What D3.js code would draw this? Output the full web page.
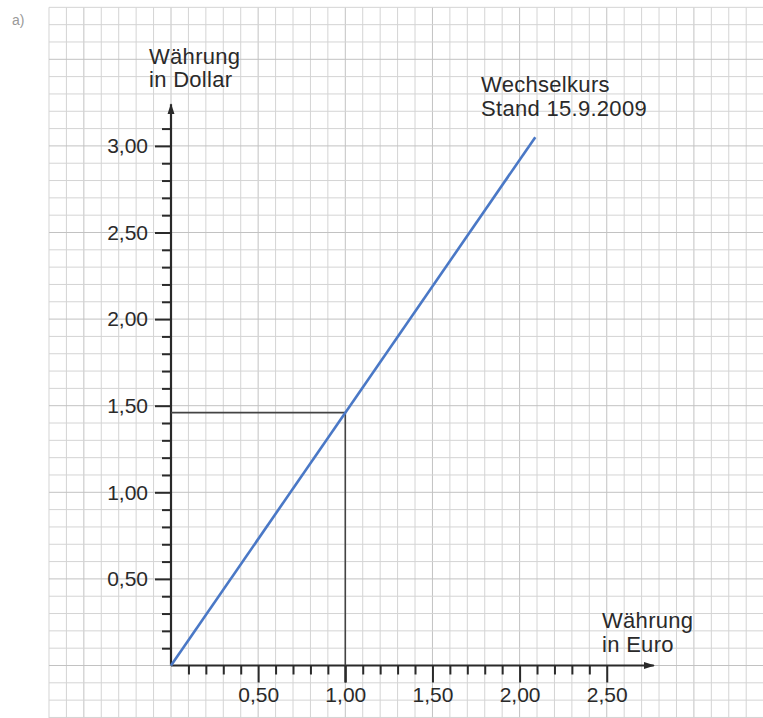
<!DOCTYPE html>
<html>
<head>
<meta charset="utf-8">
<script src="https://cdn.jsdelivr.net/npm/d3@7"></script>
<style>
  html, body { margin: 0; padding: 0; background: #fff; }
  svg { display: block; }
  text { font-family: "Liberation Sans", Arial, sans-serif; fill: #2a2a2a; }
</style>
</head>
<body>
<svg id="chart" width="763" height="718"></svg>
<script>
// ---- data ----
const rateLine = [[0, 0], [2.09, 3.05]];          // Euro -> Dollar, Stand 15.9.2009
const readOff = { euro: 1.00, dollar: 1.46 };      // reading at 1 Euro
const xTickLabels = ["0,50", "1,00", "1,50", "2,00", "2,50"];
const xTickValues = [0.5, 1.0, 1.5, 2.0, 2.5];
const yTickLabels = ["0,50", "1,00", "1,50", "2,00", "2,50", "3,00"];
const yTickValues = [0.5, 1.0, 1.5, 2.0, 2.5, 3.0];
const xMinorMax = 2.5, yMinorMax = 3.1;
const xAxisEnd = 2.77, yAxisEnd = 3.24;
const yTitle = ["Währung", "in Dollar"];
const xTitle = ["Währung", "in Euro"];
const lineLabel = ["Wechselkurs", "Stand 15.9.2009"];
const gridX = [-0.7, 3.4], gridY = [-0.3, 3.8];

// ---- scales ----
const x = d3.scaleLinear().domain([0, 1]).range([171, 345.3]);
const y = d3.scaleLinear().domain([0, 1]).range([665.5, 492.3]);

const svg = d3.select("#chart");

// corner label
svg.append("text").attr("x", 12).attr("y", 25).style("font-size", "14px")
  .style("fill", "#999").text("a)");

// ---- grid paper ----
const steps = (a, b) => d3.range(Math.round(a * 10), Math.round(b * 10) + 1).map(v => v / 10);
const gridColor = d => (Math.round(d * 10) % 5 === 0) ? "#c2c2c2" : "#d4d4d4";
const grid = svg.append("g");
grid.selectAll(".gv").data(steps(gridX[0], gridX[1])).join("line")
  .attr("x1", d => x(d)).attr("x2", d => x(d))
  .attr("y1", y(gridY[1])).attr("y2", 718)
  .attr("stroke", gridColor).attr("stroke-width", 1);
grid.selectAll(".gh").data(steps(gridY[0], gridY[1])).join("line")
  .attr("y1", d => y(d)).attr("y2", d => y(d))
  .attr("x1", x(gridX[0])).attr("x2", 763)
  .attr("stroke", gridColor).attr("stroke-width", 1);

// ---- arrow marker ----
svg.append("defs").append("marker")
  .attr("id", "arrow").attr("viewBox", "0 0 10 10")
  .attr("refX", 9).attr("refY", 5)
  .attr("markerWidth", 5).attr("markerHeight", 5)
  .attr("markerUnits", "strokeWidth")
  .attr("orient", "auto")
  .append("path").attr("d", "M0,1.8 L10,5 L0,8.2 Z").attr("fill", "#2a2a2a");

// ---- axes ----
const minorX = steps(0.1, xMinorMax).filter(v => !xTickValues.some(t => Math.abs(t - v) < 1e-6));
const minorY = steps(0.1, yMinorMax).filter(v => !yTickValues.some(t => Math.abs(t - v) < 1e-6));

const gx = svg.append("g").attr("transform", `translate(0,${y(0)})`);
gx.call(d3.axisBottom(x).tickValues(minorX).tickSize(9).tickFormat(""));
gx.call(g => g.select(".domain").remove());
const gx2 = svg.append("g").attr("transform", `translate(0,${y(0)})`);
gx2.call(d3.axisBottom(x).tickValues(xTickValues).tickSize(17).tickPadding(5)
  .tickFormat((d, i) => xTickLabels[i]));
gx2.call(g => g.select(".domain").remove());

const gy = svg.append("g").attr("transform", `translate(${x(0)},0)`);
gy.call(d3.axisLeft(y).tickValues(minorY).tickSize(9).tickFormat(""));
gy.call(g => g.select(".domain").remove());
const gy2 = svg.append("g").attr("transform", `translate(${x(0)},0)`);
gy2.call(d3.axisLeft(y).tickValues(yTickValues).tickSize(16).tickPadding(7)
  .tickFormat((d, i) => yTickLabels[i]));
gy2.call(g => g.select(".domain").remove());

svg.selectAll(".tick line").attr("stroke", "#2a2a2a").attr("stroke-width", 2);
svg.selectAll(".tick text").style("font-size", "21px").attr("fill", "#2a2a2a")
  .style("font-family", '"Liberation Sans", Arial, sans-serif');

svg.append("line").attr("x1", x(0)).attr("y1", y(0)).attr("x2", x(xAxisEnd)).attr("y2", y(0))
  .attr("stroke", "#2a2a2a").attr("stroke-width", 2.2).attr("marker-end", "url(#arrow)");
svg.append("line").attr("x1", x(0)).attr("y1", y(0)).attr("x2", x(0)).attr("y2", y(yAxisEnd))
  .attr("stroke", "#2a2a2a").attr("stroke-width", 2.2).attr("marker-end", "url(#arrow)");

// ---- read-off lines ----
svg.append("path")
  .attr("d", d3.line()([[x(0), y(readOff.dollar)], [x(readOff.euro), y(readOff.dollar)], [x(readOff.euro), y(0)]]))
  .attr("fill", "none").attr("stroke", "#444").attr("stroke-width", 1.6);
svg.append("line").attr("x1", x(readOff.euro)).attr("x2", x(readOff.euro))
  .attr("y1", y(0)).attr("y2", y(0) + 17).attr("stroke", "#2a2a2a").attr("stroke-width", 2);

// ---- exchange-rate line ----
svg.append("path").datum(rateLine)
  .attr("d", d3.line().x(d => x(d[0])).y(d => y(d[1])))
  .attr("fill", "none").attr("stroke", "#4a78c6").attr("stroke-width", 2.6);

// ---- titles ----
function block(lines, px, py, lh) {
  const t = svg.append("text").attr("x", px).attr("y", py)
    .style("font-size", "22px").style("letter-spacing", "0.3px");
  lines.forEach((s, i) => t.append("tspan").attr("x", px).attr("dy", i ? lh : 0).text(s));
}
block(yTitle, 149, 64, 23);
block(xTitle, 602, 628, 24);
block(lineLabel, 481, 92, 24);
</script>
</body>
</html>
